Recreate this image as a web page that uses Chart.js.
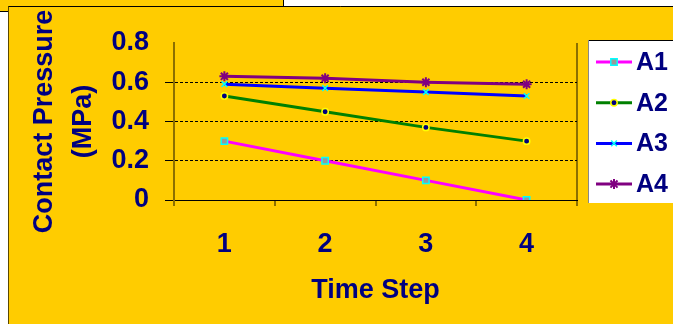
<!DOCTYPE html>
<html>
<head>
<meta charset="utf-8">
<script src="https://cdn.jsdelivr.net/npm/chart.js@4/dist/chart.umd.min.js"></script>
<style>
  html, body { margin: 0; padding: 0; background: #fff; }
  canvas { display: block; }
</style>
</head>
<body>
<canvas id="pressureChart" width="673" height="324"></canvas>
<script>
const steps = ['1', '2', '3', '4'];
const seriesNames = ['A1', 'A2', 'A3', 'A4'];
const a1 = [0.30, 0.20, 0.10, 0.00];
const a2 = [0.53, 0.45, 0.37, 0.30];
const a3 = [0.59, 0.57, 0.55, 0.53];
const a4 = [0.63, 0.62, 0.60, 0.59];
const yMin = 0, yMax = 0.8, yStep = 0.2;

const NAVY = '#000080';
const YELLOW = '#FFCC00';
const BROWN = '#8c6f00';
const FONT = '"Liberation Sans", Arial, sans-serif';

// panel background + the edge of the chart behind it
const backdrop = {
    id: 'backdrop',
    beforeDraw(chart) {
        const c = chart.ctx;
        c.save();
        c.fillStyle = '#fff';
        c.fillRect(0, 0, chart.width, chart.height);
        c.fillStyle = YELLOW;
        c.fillRect(0, 0, 283, 11);
        c.strokeStyle = '#000';
        c.lineWidth = 1;
        c.beginPath();
        c.moveTo(0, 11.5); c.lineTo(283.5, 11.5); c.lineTo(283.5, 0);
        c.stroke();
        c.fillStyle = YELLOW;
        c.fillRect(8, 6, chart.width - 8, chart.height - 6);
        c.beginPath();
        c.moveTo(8.5, chart.height); c.lineTo(8.5, 6.5); c.lineTo(chart.width, 6.5);
        c.strokeStyle = '#000';
        c.stroke();
        c.strokeStyle = '#5a4800';
        c.beginPath();
        c.moveTo(8.5, chart.height); c.lineTo(8.5, 7);
        c.stroke();
        c.restore();
    }
};

// excel style legend: line with the marker in the middle
const lineLegend = {
    id: 'lineLegend',
    afterDraw(chart) {
        const c = chart.ctx;
        const box = { x: 588, y: 40, w: 90, h: 163 };
        c.save();
        c.fillStyle = '#fff';
        c.fillRect(box.x, box.y, box.w, box.h);
        c.strokeStyle = '#000';
        c.lineWidth = 1;
        c.beginPath();
        c.moveTo(box.x, box.y + 0.5); c.lineTo(box.x + box.w, box.y + 0.5);
        c.stroke();
        c.strokeStyle = '#888';
        c.beginPath();
        c.moveTo(box.x + 0.5, box.y); c.lineTo(box.x + 0.5, box.y + box.h);
        c.stroke();

        chart.data.datasets.forEach((ds, i) => {
            const y = 62 + i * 40.7;
            c.strokeStyle = ds.borderColor;
            c.lineWidth = 3;
            c.beginPath();
            c.moveTo(596, y); c.lineTo(632, y);
            c.stroke();
            c.fillStyle = ds.pointBackgroundColor;
            c.strokeStyle = ds.pointBorderColor;
            c.lineWidth = ds.pointBorderWidth;
            Chart.helpers.drawPoint(c, {
                pointStyle: ds.pointStyle,
                radius: ds.pointRadius,
                rotation: 0,
                borderWidth: ds.pointBorderWidth
            }, 614, y);
            c.fillStyle = NAVY;
            c.font = 'bold 25px ' + FONT;
            c.textBaseline = 'middle';
            c.textAlign = 'left';
            c.fillText(ds.label, 636, y + 1);
        });
        c.restore();
    }
};

function series(label, data, color, style, fill, border, radius, bw) {
    return {
        label: label,
        data: data,
        borderColor: color,
        backgroundColor: color,
        borderWidth: 3,
        tension: 0,
        pointStyle: style,
        pointBackgroundColor: fill,
        pointBorderColor: border,
        pointRadius: radius,
        pointBorderWidth: bw,
        pointHoverRadius: radius
    };
}

const isTop = (ctx) => ctx.tick && ctx.tick.value > yMax - 0.01;

new Chart(document.getElementById('pressureChart'), {
    type: 'line',
    data: {
        labels: steps,
        datasets: [
            series(seriesNames[0], a1, '#FF00FF', 'rect', '#999999', '#00FFFF', 4.5, 1.5),
            series(seriesNames[1], a2, '#008000', 'circle', NAVY, '#FFFF00', 3.2, 1.5),
            series(seriesNames[2], a3, '#0000FF', 'crossRot', '#00FFFF', '#00FFFF', 4, 1.5),
            series(seriesNames[3], a4, '#800080', 'star', '#800080', '#800080', 5, 2)
        ]
    },
    options: {
        responsive: false,
        animation: false,
        devicePixelRatio: 1,
        layout: { padding: { left: 0, top: 43, right: 96, bottom: 0 } },
        plugins: {
            legend: { display: false },
            tooltip: { enabled: false }
        },
        scales: {
            x: {
                offset: true,
                grid: {
                    offset: true,
                    color: (ctx) => ctx.index === undefined ? BROWN : 'transparent',
                    lineWidth: 2,
                    tickLength: 6,
                    tickColor: BROWN,
                    tickWidth: 2
                },
                border: { display: true, color: '#000', width: 1 },
                ticks: {
                    color: NAVY,
                    padding: 22,
                    font: { family: FONT, size: 27, weight: 'bold' }
                },
                title: {
                    display: true,
                    text: 'Time Step',
                    color: NAVY,
                    padding: { top: 0, bottom: 17 },
                    font: { family: FONT, size: 27, weight: 'bold' }
                },
                afterFit(scale) { scale.height = 124; }
            },
            y: {
                min: yMin,
                max: yMax,
                ticks: {
                    stepSize: yStep,
                    color: NAVY,
                    padding: 16,
                    font: { family: FONT, size: 27, weight: 'bold' }
                },
                grid: {
                    color: (ctx) => isTop(ctx) ? 'transparent' : '#000',
                    lineWidth: 1,
                    tickLength: 9,
                    tickBorderDash: [],
                    tickColor: (ctx) => isTop(ctx) ? 'transparent' : '#000'
                },
                border: { display: true, color: BROWN, width: 2, dash: [3, 2] },
                title: {
                    display: true,
                    text: ['Contact Pressure', '(MPa)'],
                    color: NAVY,
                    padding: { top: 26, bottom: 0 },
                    font: { family: FONT, size: 27, weight: 'bold', lineHeight: 1.41 }
                },
                afterFit(scale) { scale.width = 174; }
            }
        }
    },
    plugins: [backdrop, lineLegend]
});
</script>
</body>
</html>
